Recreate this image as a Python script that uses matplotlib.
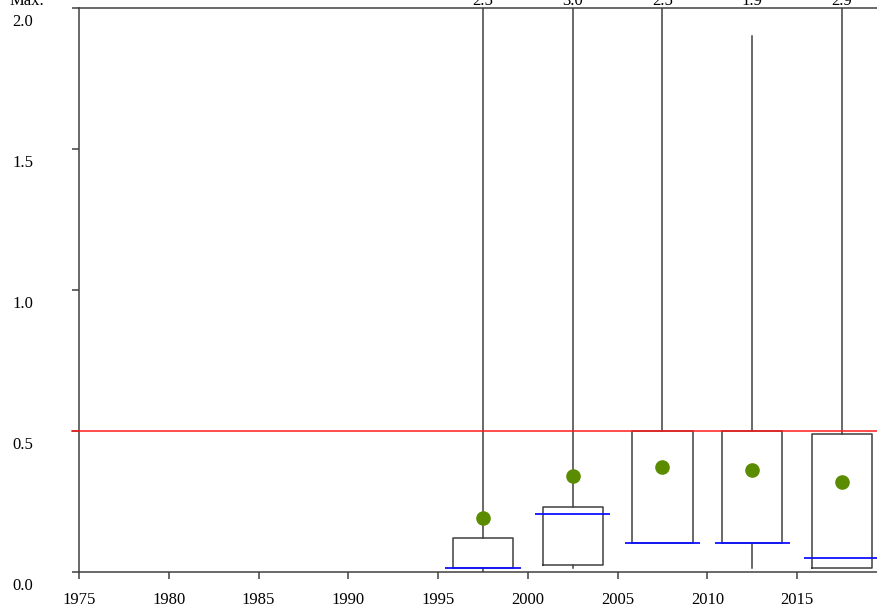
import matplotlib
matplotlib.use("Agg")
import matplotlib.pyplot as plt
from matplotlib.transforms import ScaledTranslation

# five-year bins, box statistics
centers = [1997.5, 2002.5, 2007.5, 2012.5, 2017.5]
q1 = [0.015, 0.025, 0.104, 0.104, 0.013]
med = [0.015, 0.205, 0.104, 0.104, 0.050]
q3 = [0.122, 0.232, 0.500, 0.500, 0.488]
lo = [0.0, 0.014, 0.104, 0.014, 0.013]
hi = [2.5, 3.0, 2.5, 1.9, 2.9]
means = [0.193, 0.340, 0.373, 0.362, 0.320]
max_labels = ["2.5", "3.0", "2.5", "1.9", "2.9"]
threshold = 0.5

xticks = [1975, 1980, 1985, 1990, 1995, 2000, 2005, 2010, 2015]
yticks = [0.0, 0.5, 1.0, 1.5, 2.0]

plt.rcParams['font.family'] = ['Liberation Serif']
gray = '#404040'
fs = 12

fig = plt.figure(figsize=(8.77, 6.07), dpi=100)
ax = fig.add_axes([79 / 877, 35 / 607, 1 - 79 / 877, 564 / 607])

stats = [dict(med=m, q1=a, q3=b, whislo=l, whishi=h, mean=mu)
         for m, a, b, l, h, mu in zip(med, q1, q3, lo, hi, means)]
ax.bxp(stats, positions=centers, widths=3.35, showcaps=False, showfliers=False,
       showmeans=True, manage_ticks=False,
       boxprops=dict(color=gray, lw=1.1),
       whiskerprops=dict(color=gray, lw=1.1),
       medianprops=dict(lw=0),
       meanprops=dict(marker='o', markerfacecolor='#5b8c00', markeredgecolor='#5b8c00',
                      markersize=9.5))
ax.hlines(med, [c - 2.1 for c in centers], [c + 2.1 for c in centers],
          color='#1010ff', lw=1.3, zorder=3)

# reference line, carried out over the tick mark
ax.plot([-0.009, 1], [threshold, threshold], color='#ff1a1a', lw=1.1,
        transform=ax.get_yaxis_transform(), clip_on=False, zorder=4)

# max values above the top edge (partly cut off, as in the source)
for c, t in zip(centers, max_labels):
    ax.annotate(t, (c, 2.0), xytext=(0, 2.5), textcoords='offset points',
                ha='center', va='baseline', fontsize=fs, annotation_clip=False)
fig.text(10 / 877, 1 - 5 / 607, 'Max.', ha='left', va='baseline', fontsize=fs)

ax.set_xlim(1975, 2019.45)
ax.set_ylim(0, 2.0)
ax.set_xticks(xticks)
ax.set_yticks(yticks)
ax.set_yticklabels([f"{v:.1f}" for v in yticks])
ax.tick_params(axis='x', length=5, width=1.1, color=gray, pad=9.5, labelsize=fs)
ax.tick_params(axis='y', length=5, width=1.1, color=gray, pad=28, labelsize=fs)
for lab in ax.get_yticklabels():
    lab.set_horizontalalignment('left')
    lab.set_transform(lab.get_transform() + ScaledTranslation(-0.21, -0.12, fig.dpi_scale_trans))

for s in ['left', 'bottom', 'top']:
    ax.spines[s].set_color(gray)
    ax.spines[s].set_linewidth(1.1)
ax.spines['right'].set_visible(False)

fig.savefig('out.png', dpi=100)
